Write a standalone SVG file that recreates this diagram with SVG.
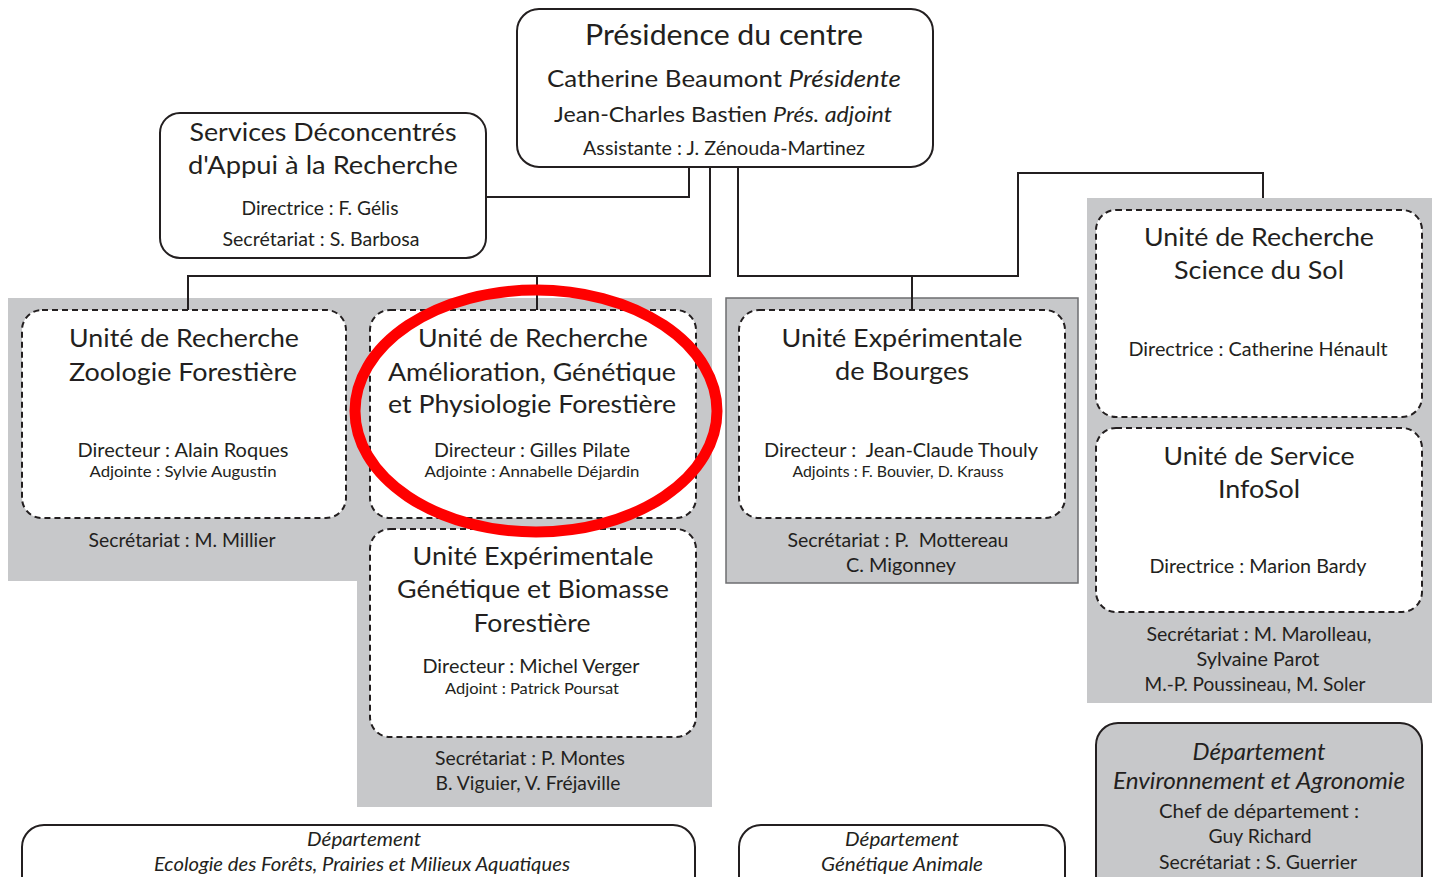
<svg xmlns="http://www.w3.org/2000/svg" width="1438" height="877" viewBox="0 0 1438 877">
<style>
.t{font-family:Lato,"Open Sans","Liberation Sans",sans-serif;fill:#231f20;text-anchor:middle}
.i{font-style:italic}
.box{fill:#fff;stroke:#231f20;stroke-width:2}
.dash{fill:#fff;stroke:#231f20;stroke-width:2;stroke-dasharray:6 4}
.grey{fill:#c7c8ca}
.conn{fill:none;stroke:#231f20;stroke-width:2}
.h{font-size:25px}
.d{font-size:19.5px}
.a{font-size:16px}
</style>
<rect width="1438" height="877" fill="#fff"/>
<g id="backgrounds">
<path class="grey" d="M8 298 H712 V807 H357 V581 H8 Z"/>
<rect class="grey" x="726" y="298" width="352" height="285" stroke="#6d6e70" stroke-width="1.5"/>
<rect class="grey" x="1087" y="198" width="345" height="505"/>
</g>
<g id="connectors">
<polyline class="conn" points="689,167 689,197 486,197"/>
<polyline class="conn" points="710,167 710,276 188,276 188,310"/>
<line class="conn" x1="537" y1="276" x2="537" y2="310"/>
<polyline class="conn" points="738,167 738,276 1018,276 1018,173 1263,173 1263,198"/>
<line class="conn" x1="912" y1="276" x2="912" y2="310"/>
</g>
<g id="presidence">
<rect class="box" x="517" y="9" width="416" height="158" rx="22"/>
<text class="t" x="724" y="45" font-size="28" textLength="278" lengthAdjust="spacingAndGlyphs">Présidence du centre</text>
<text class="t" x="724" y="87" font-size="24" textLength="354" lengthAdjust="spacingAndGlyphs">Catherine Beaumont <tspan class="i">Présidente</tspan></text>
<text class="t" x="723" y="122" font-size="22" textLength="338" lengthAdjust="spacingAndGlyphs">Jean-Charles Bastien <tspan class="i">Prés. adjoint</tspan></text>
<text class="t" x="724" y="155" font-size="18.5" textLength="282" lengthAdjust="spacingAndGlyphs">Assistante : J. Zénouda-Martinez</text>
</g>
<g id="services">
<rect class="box" x="160" y="113" width="326" height="145" rx="20"/>
<text class="t h" x="323" y="141" textLength="267" lengthAdjust="spacingAndGlyphs">Services Déconcentrés</text>
<text class="t h" x="323" y="174" textLength="270" lengthAdjust="spacingAndGlyphs">d'Appui à la Recherche</text>
<text class="t d" x="320" y="215" textLength="157" lengthAdjust="spacingAndGlyphs">Directrice : F. Gélis</text>
<text class="t d" x="321" y="246" textLength="197" lengthAdjust="spacingAndGlyphs">Secrétariat : S. Barbosa</text>
</g>
<g id="zoologie">
<rect class="dash" x="22" y="310" width="324" height="208" rx="20"/>
<text class="t h" x="184" y="347" textLength="230" lengthAdjust="spacingAndGlyphs">Unité de Recherche</text>
<text class="t h" x="183" y="381" textLength="228" lengthAdjust="spacingAndGlyphs">Zoologie Forestière</text>
<text class="t d" x="183" y="457" textLength="211" lengthAdjust="spacingAndGlyphs">Directeur : Alain Roques</text>
<text class="t a" x="183" y="477" textLength="187" lengthAdjust="spacingAndGlyphs">Adjointe : Sylvie Augustin</text>
<text class="t d" x="182" y="547" textLength="187" lengthAdjust="spacingAndGlyphs">Secrétariat : M. Millier</text>
</g>
<g id="agpf">
<rect class="dash" x="370" y="310" width="326" height="208" rx="20"/>
<text class="t h" x="533" y="347" textLength="230" lengthAdjust="spacingAndGlyphs">Unité de Recherche</text>
<text class="t h" x="532" y="381" textLength="288" lengthAdjust="spacingAndGlyphs">Amélioration, Génétique</text>
<text class="t h" x="532" y="413" textLength="288" lengthAdjust="spacingAndGlyphs">et Physiologie Forestière</text>
<text class="t d" x="532" y="457" textLength="196" lengthAdjust="spacingAndGlyphs">Directeur : Gilles Pilate</text>
<text class="t a" x="532" y="477" textLength="215" lengthAdjust="spacingAndGlyphs">Adjointe : Annabelle Déjardin</text>
</g>
<g id="uegbf">
<rect class="dash" x="370" y="529" width="326" height="208" rx="20"/>
<text class="t h" x="533" y="565" textLength="241" lengthAdjust="spacingAndGlyphs">Unité Expérimentale</text>
<text class="t h" x="533" y="598" textLength="272" lengthAdjust="spacingAndGlyphs">Génétique et Biomasse</text>
<text class="t h" x="532" y="632" textLength="117" lengthAdjust="spacingAndGlyphs">Forestière</text>
<text class="t d" x="531" y="673" textLength="217" lengthAdjust="spacingAndGlyphs">Directeur : Michel Verger</text>
<text class="t a" x="532" y="694" textLength="174" lengthAdjust="spacingAndGlyphs">Adjoint : Patrick Poursat</text>
<text class="t d" x="530" y="765" textLength="190" lengthAdjust="spacingAndGlyphs">Secrétariat : P. Montes</text>
<text class="t d" x="528" y="790" textLength="185" lengthAdjust="spacingAndGlyphs">B. Viguier, V. Fréjaville</text>
</g>
<g id="bourges">
<rect class="dash" x="739" y="310" width="326" height="208" rx="20"/>
<text class="t h" x="902" y="347" textLength="241" lengthAdjust="spacingAndGlyphs">Unité Expérimentale</text>
<text class="t h" x="902" y="380" textLength="134" lengthAdjust="spacingAndGlyphs">de Bourges</text>
<text class="t d" x="901" y="457" textLength="274" lengthAdjust="spacingAndGlyphs">Directeur :&#160; Jean-Claude Thouly</text>
<text class="t a" x="898" y="477" textLength="211" lengthAdjust="spacingAndGlyphs">Adjoints : F. Bouvier, D. Krauss</text>
<text class="t d" x="898" y="547" textLength="221" lengthAdjust="spacingAndGlyphs">Secrétariat : P.&#160; Mottereau</text>
<text class="t d" x="901" y="572" textLength="110" lengthAdjust="spacingAndGlyphs">C. Migonney</text>
</g>
<g id="sol">
<rect class="dash" x="1096" y="210" width="326" height="207" rx="20"/>
<text class="t h" x="1259" y="246" textLength="230" lengthAdjust="spacingAndGlyphs">Unité de Recherche</text>
<text class="t h" x="1259" y="279" textLength="170" lengthAdjust="spacingAndGlyphs">Science du Sol</text>
<text class="t d" x="1258" y="356" textLength="259" lengthAdjust="spacingAndGlyphs">Directrice : Catherine Hénault</text>
</g>
<g id="infosol">
<rect class="dash" x="1096" y="428" width="326" height="184" rx="20"/>
<text class="t h" x="1259" y="465" textLength="191" lengthAdjust="spacingAndGlyphs">Unité de Service</text>
<text class="t h" x="1259" y="498" textLength="82" lengthAdjust="spacingAndGlyphs">InfoSol</text>
<text class="t d" x="1258" y="573" textLength="217" lengthAdjust="spacingAndGlyphs">Directrice : Marion Bardy</text>
<text class="t d" x="1259" y="641" textLength="225" lengthAdjust="spacingAndGlyphs">Secrétariat : M. Marolleau,</text>
<text class="t d" x="1258" y="666" textLength="123" lengthAdjust="spacingAndGlyphs">Sylvaine Parot</text>
<text class="t d" x="1255" y="691" textLength="221" lengthAdjust="spacingAndGlyphs">M.-P. Poussineau, M. Soler</text>
</g>
<g id="dept-env">
<rect x="1096" y="723" width="326" height="180" rx="22" fill="#c7c8ca" stroke="#231f20" stroke-width="2"/>
<text class="t i" x="1259" y="760" font-size="23" textLength="133" lengthAdjust="spacingAndGlyphs">Département</text>
<text class="t i" x="1259" y="789" font-size="23" textLength="292" lengthAdjust="spacingAndGlyphs">Environnement et Agronomie</text>
<text class="t d" x="1259" y="818" textLength="200" lengthAdjust="spacingAndGlyphs">Chef de département :</text>
<text class="t d" x="1260" y="843" textLength="103" lengthAdjust="spacingAndGlyphs">Guy Richard</text>
<text class="t d" x="1258" y="869" textLength="198" lengthAdjust="spacingAndGlyphs">Secrétariat : S. Guerrier</text>
</g>
<g id="dept-ecologie">
<rect class="box" x="22" y="825" width="673" height="80" rx="22"/>
<text class="t i" x="364" y="846" font-size="20" textLength="114" lengthAdjust="spacingAndGlyphs">Département</text>
<text class="t i" x="362" y="871" font-size="20" textLength="416" lengthAdjust="spacingAndGlyphs">Ecologie des Forêts, Prairies et Milieux Aquatiques</text>
</g>
<g id="dept-genetique">
<rect class="box" x="739" y="825" width="326" height="80" rx="22"/>
<text class="t i" x="902" y="846" font-size="20" textLength="114" lengthAdjust="spacingAndGlyphs">Département</text>
<text class="t i" x="902" y="871" font-size="20" textLength="162" lengthAdjust="spacingAndGlyphs">Génétique Animale</text>
</g>
<g id="highlight">
<ellipse cx="536" cy="411" rx="181" ry="121" fill="none" stroke="#ff0000" stroke-width="11"/>
</g>
</svg>
